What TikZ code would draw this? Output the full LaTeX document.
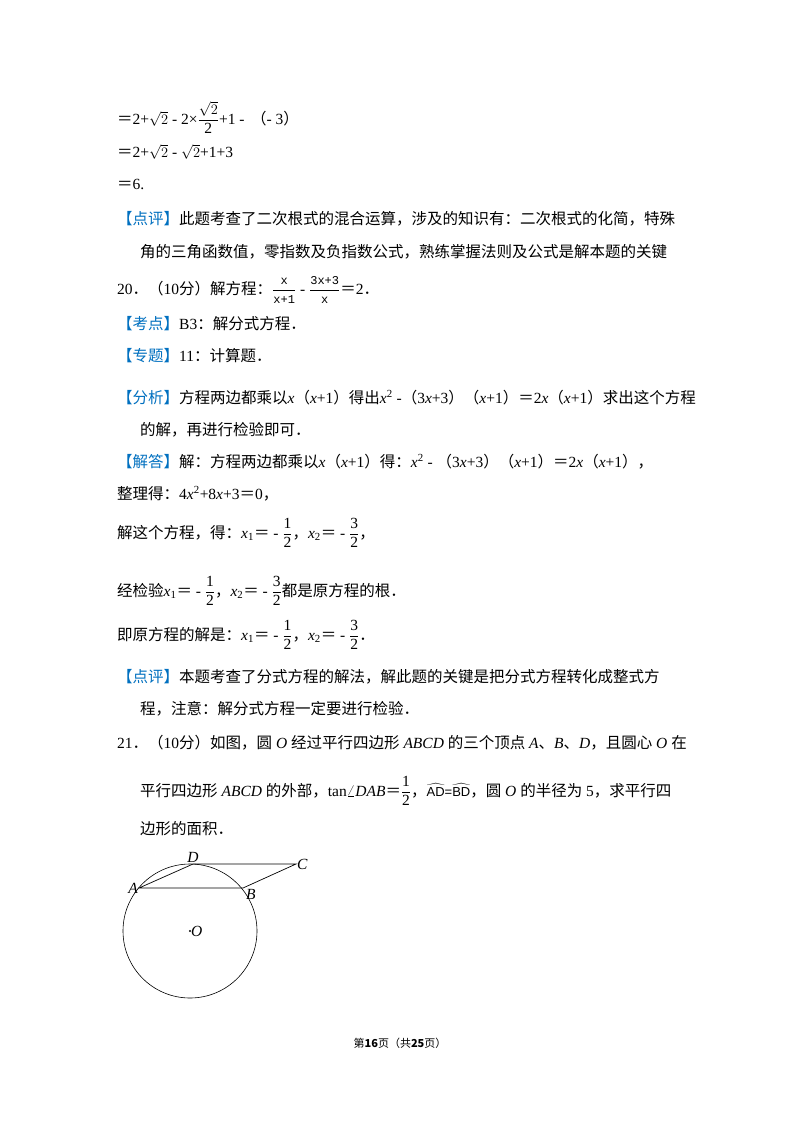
\documentclass[tikz,border=0pt]{standalone}
\usepackage{amsmath}
\usepackage{fontspec}
\setmainfont{Noto Sans CJK SC}
\newfontfamily\cj{Noto Sans CJK SC}
\newfontfamily\lt{Liberation Serif}
\newfontfamily\ltsans{Liberation Sans}
\newfontfamily\ltmono{Liberation Mono}
\definecolor{tblue}{RGB}{0,112,192}
\newcommand\bl[1]{\textcolor{tblue}{#1}}
\newcommand\fs{\fontsize{15.5}{16}\selectfont}
\newcommand\LP{{\cj （}}
\newcommand\RP{{\cj ）}}
\newcommand\DT{{\cj ．}}
\newcommand\EQ{{\cj ＝}}
\newcommand\fr[2]{$\displaystyle\frac{\text{\lt #1}}{\text{\lt #2}}$}
\newcommand\tfr[2]{$\displaystyle\frac{\text{\ltmono\fontsize{12}{12}\selectfont #1}}{\text{\ltmono\fontsize{12}{12}\selectfont #2}}$}
\newcommand\xsub[1]{{\lt\itshape x\textsubscript{\upshape #1}}}
\begin{document}
\begin{tikzpicture}[x=1pt,y=-1pt,
  ln/.style={anchor=base west,inner sep=0pt,font=\fs},
  lbl/.style={inner sep=1pt,font=\fs\lt\itshape}]
\useasboundingbox[fill=white] (0,0) rectangle (800,1132);
\node[ln] (l1) at (117,124) {\EQ{\lt 2+$\sqrt{2}$ - 2×}\fr{$\sqrt{2}$}{2}{\lt +1 - }\,\LP{\lt - 3}\RP};
\node[ln] (l2) at (117,157) {\EQ{\lt 2+$\sqrt{2}$ - $\sqrt{2}$+1+3}};
\node[ln] (l3) at (117,189) {\EQ{\lt 6.}};
\node[ln] (l4) at (117,224) {\bl{【点评】}此题考查了二次根式的混合运算，涉及的知识有：二次根式的化简，特殊};
\node[ln] (l5) at (140,257) {角的三角函数值，零指数及负指数公式，熟练掌握法则及公式是解本题的关键};
\node[ln] (l6) at (117,294) {{\lt 20}\DT\LP{\lt 10}分\RP 解方程：\tfr{x}{x+1}{\lt\ - }\tfr{3x+3}{x}\EQ{\lt 2}\DT};
\node[ln] (l7) at (117,329) {\bl{【考点】}{\lt B3}：解分式方程\DT};
\node[ln] (l8) at (117,361) {\bl{【专题】}{\lt 11}：计算题\DT};
\node[ln] (l9) at (117,403) {\bl{【分析】}方程两边都乘以{\lt\itshape x}\LP{\lt\itshape x\upshape +1}\RP 得出{\lt\itshape x\textsuperscript{\upshape 2}}{\lt\ -}\LP{\lt 3\textit{x}+3}\RP\LP{\lt\itshape x\upshape +1}\RP\EQ{\lt 2\textit{x}}\LP{\lt\itshape x\upshape +1}\RP 求出这个方程};
\node[ln] (l10) at (140,435) {的解，再进行检验即可\DT};
\node[ln] (l11) at (117,467) {\bl{【解答】}解：方程两边都乘以{\lt\itshape x}\LP{\lt\itshape x\upshape +1}\RP 得：{\lt\itshape x\textsuperscript{\upshape 2}}{\lt\ - }\LP{\lt 3\textit{x}+3}\RP\LP{\lt\itshape x\upshape +1}\RP\EQ{\lt 2\textit{x}}\LP{\lt\itshape x\upshape +1}\RP，};
\node[ln] (l12) at (117,499) {整理得：{\lt 4\textit{x}\textsuperscript{2}+8\textit{x}+3}\EQ{\lt 0}，};
\node[ln] (l13) at (117,538) {解这个方程，得：\xsub{1}\EQ{\lt\ - }\fr{1}{2}，\xsub{2}\EQ{\lt\ - }\fr{3}{2}，};
\node[ln] (l14) at (117,596) {经检验\xsub{1}\EQ{\lt\ - }\fr{1}{2}，\xsub{2}\EQ{\lt\ - }\fr{3}{2}都是原方程的根\DT};
\node[ln] (l15) at (117,640) {即原方程的解是：\xsub{1}\EQ{\lt\ - }\fr{1}{2}，\xsub{2}\EQ{\lt\ - }\fr{3}{2}\DT};
\node[ln] (l16) at (117,682) {\bl{【点评】}本题考查了分式方程的解法，解此题的关键是把分式方程转化成整式方};
\node[ln] (l17) at (140,714) {程，注意：解分式方程一定要进行检验\DT};
\node[ln] (l18) at (117,748) {{\lt 21}\DT\LP{\lt 10}分\RP 如图，圆{\lt\itshape\ O\ }经过平行四边形{\lt\itshape\ ABCD\ }的三个顶点{\lt\itshape\ A}、{\lt\itshape B}、{\lt\itshape D}，且圆心{\lt\itshape\ O\ }在};
\node[ln] (l19) at (140,796) {平行四边形{\lt\itshape\ ABCD\ }的外部，{\lt tan$\angle$\textit{DAB}}\EQ\fr{1}{2}，{\ltsans\fontsize{13}{13}\selectfont$\widehat{\text{AD}}$=$\widehat{\text{BD}}$}，圆{\lt\itshape\ O\ }的半径为{\lt\ 5}，求平行四};
\node[ln] (l20) at (140,834) {边形的面积\DT};
\node[anchor=base,inner sep=0pt,font=\fontsize{11}{12}\selectfont] (ft) at (400,1047) {第\textbf{16}页（共\textbf{25}页）};
% figure
\coordinate (O) at (190,931);
\draw[line width=0.6pt] (O) circle (67);
\coordinate (A) at (139,888);
\coordinate (B) at (243,888);
\coordinate (D) at (193,864);
\coordinate (C) at (296,864);
\draw[line width=0.7pt] (A) -- (B) -- (C) -- (D) -- cycle;
\fill (O) circle (1.2);
\node[lbl,anchor=west] (lO) at (O) {O};
\node[lbl,anchor=south] (lD) at (D) {D};
\node[lbl,anchor=west] (lC) at (C) {C};
\node[lbl,anchor=east] (lA) at (A) {A};
\node[lbl,anchor=north west,xshift=2pt] (lB) at (B) {B};
\end{tikzpicture}
\end{document}
